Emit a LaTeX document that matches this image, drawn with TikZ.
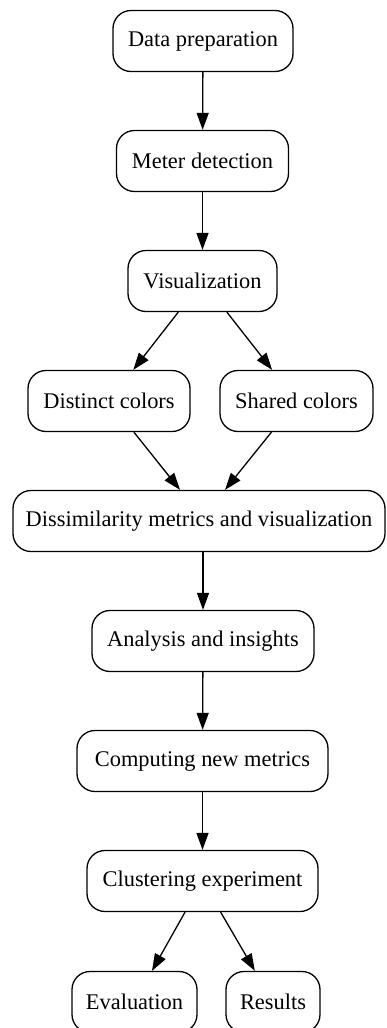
\documentclass[tikz,border=0pt]{standalone}
\usepackage{fontspec}
\setmainfont{Liberation Serif}
\usetikzlibrary{arrows.meta}

\tikzset{
  stepbox/.style={draw, line width=1.3pt, rounded corners=18pt, rectangle,
    minimum height=61pt, inner xsep=0pt, align=center,
    font=\fontsize{22.4}{26}\selectfont},
  flow/.style={line width=1.3pt, -{Triangle[length=17pt,width=12pt]}}
}

\begin{document}
\begin{tikzpicture}[x=1pt,y=-1pt]
  \useasboundingbox (0,0) rectangle (387,1028);

  % pipeline stages
  \node[stepbox, minimum width=180pt] (prep) at (203,41)   {Data preparation};
  \node[stepbox, minimum width=172pt] (meter) at (202.5,161) {Meter detection};
  \node[stepbox, minimum width=149pt] (vis) at (202.5,281) {Visualization};
  \node[stepbox, minimum width=162pt] (dist) at (109,401)  {Distinct colors};
  \node[stepbox, minimum width=153pt] (shared) at (296.5,401) {Shared colors};
  \node[stepbox, minimum width=372pt] (dissim) at (199,521) {Dissimilarity metrics and visualization};
  \node[stepbox, minimum width=222pt] (anal) at (203,641)  {Analysis and insights};
  \node[stepbox, minimum width=251pt] (comp) at (202.5,761) {Computing new metrics};
  \node[stepbox, minimum width=231pt] (clust) at (202.5,881) {Clustering experiment};
  \node[stepbox, minimum width=125pt] (eval) at (134.5,1002) {Evaluation};
  \node[stepbox, minimum width=94pt]  (res) at (273,1002)  {Results};

  % connectors
  \draw[flow] (prep) -- (meter);
  \draw[flow] (meter) -- (vis);
  \draw[flow] (vis) -- (dist);
  \draw[flow] (vis) -- (shared);
  \draw[flow] (dist) -- ([xshift=-19pt]dissim.north);
  \draw[flow] (shared) -- ([xshift=26pt]dissim.north);
  \draw[flow] (anal |- dissim.south) -- (anal);
  \draw[flow] (anal) -- (comp);
  \draw[flow] (comp) -- (clust);
  \draw[flow] (clust) -- (eval);
  \draw[flow] (clust) -- (res);
\end{tikzpicture}
\end{document}
